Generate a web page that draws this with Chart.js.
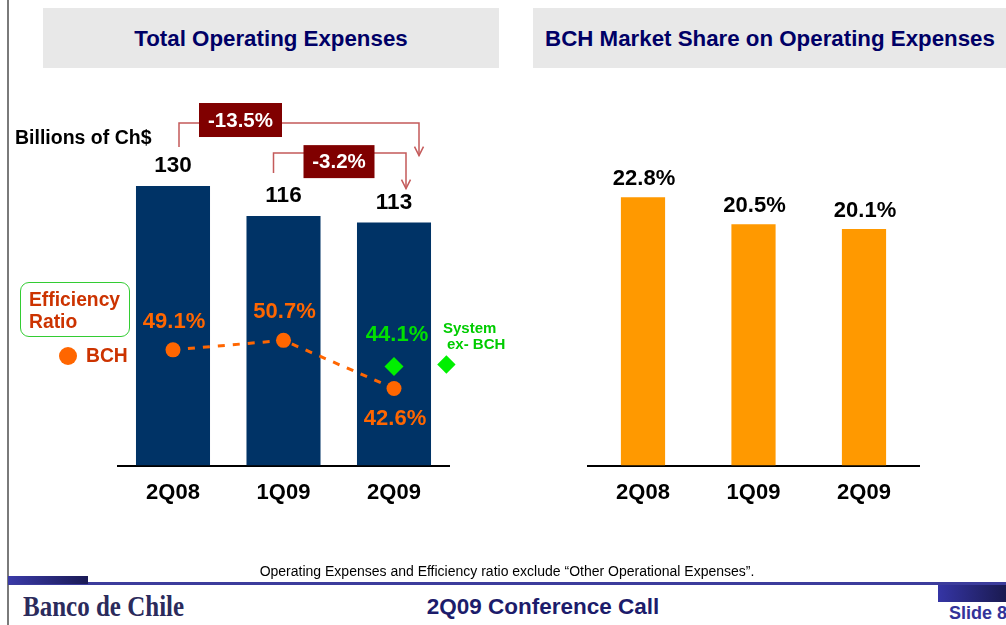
<!DOCTYPE html>
<html><head><meta charset="utf-8">
<script src="https://cdn.jsdelivr.net/npm/chart.js@4.4.0/dist/chart.umd.min.js"></script>
<style>
html,body{margin:0;padding:0;background:#fff;}
body{width:1006px;height:625px;position:relative;overflow:hidden;font-family:"Liberation Sans",Arial,sans-serif;}
.abs{position:absolute;white-space:nowrap;}
canvas{position:absolute;top:0;}
.hdr{position:absolute;top:8px;height:60px;background:#e8e8e8;color:#000066;font-weight:bold;font-size:22.3px;line-height:62px;text-align:center;}
</style></head><body>
<canvas id="c1" width="520" height="530" style="left:0;width:520px;height:530px"></canvas>
<canvas id="c2" width="486" height="530" style="left:520px;width:486px;height:530px"></canvas>

<div class="abs" style="left:7px;top:0;width:1.5px;height:625px;background:#7a7a7a"></div>
<div class="hdr" style="left:43px;width:456px">Total Operating Expenses</div>
<div class="hdr" style="left:533px;width:474px">BCH Market Share on Operating Expenses</div>

<div class="abs" style="left:15px;top:126px;font-weight:bold;font-size:19.5px;line-height:22px;color:#000">Billions of Ch$</div>

<div class="abs" style="left:20px;top:282px;width:108px;height:53px;border:1.5px solid #33cc33;border-radius:9px;"></div>
<div class="abs" style="left:29px;top:289px;font-weight:bold;font-size:19.3px;line-height:22px;color:#cc3300">Efficiency<br>Ratio</div>
<div class="abs" style="left:59px;top:347px;width:18px;height:18px;border-radius:50%;background:#ff6600"></div>
<div class="abs" style="left:86px;top:345px;font-weight:bold;font-size:19.3px;line-height:22px;color:#cc3300">BCH</div>

<div class="abs" style="left:443px;top:320px;font-weight:bold;font-size:15px;line-height:16px;color:#00cc00">System<br><span style="padding-left:4px">ex- BCH</span></div>
<div class="abs" style="left:439.6px;top:357.6px;width:12.8px;height:12.8px;background:#00f000;transform:rotate(45deg)"></div>

<div class="abs" style="left:0;width:1014px;top:562px;text-align:center;font-family:'Liberation Sans Narrow','Arial Narrow',sans-serif;font-size:14px;line-height:18px;color:#000">Operating Expenses and Efficiency ratio exclude “Other Operational Expenses”.</div>
<div class="abs" style="left:8px;top:582px;width:998px;height:3px;background:#3c3c9c"></div>
<div class="abs" style="left:8px;top:576px;width:80px;height:8px;background:linear-gradient(to right,#3a3aa8,#1a1a55)"></div>
<div class="abs" style="left:938px;top:585px;width:68px;height:17px;background:linear-gradient(to right,#3535a5,#1a1a50)"></div>
<div class="abs" style="left:23px;top:592px;font-family:'Liberation Serif','DejaVu Serif',serif;font-weight:bold;font-size:25px;line-height:30px;color:#2b2b5c;transform:scaleY(1.15);transform-origin:left center">Banco de Chile</div>
<div class="abs" style="left:343px;width:400px;top:594px;text-align:center;font-weight:bold;font-size:22.5px;line-height:26px;color:#1c1c6b">2Q09 Conference Call</div>
<div class="abs" style="left:949px;top:603px;font-weight:bold;font-size:18px;line-height:20px;color:#333399">Slide 8</div>

<script>
// ---- data ----
const categories = ['2Q08', '1Q09', '2Q09'];
const opexValues = [130, 116, 113];
const bchEfficiency = [49.1, 50.7, 42.6];
const systemEfficiency = [null, null, 44.1];
const marketShare = [22.8, 20.5, 20.1];
const changeLabels = ['-13.5%', '-3.2%'];

Chart.defaults.font.family = '"Liberation Sans", Arial, sans-serif';
Chart.defaults.devicePixelRatio = 1;

const FONT = '"Liberation Sans", Arial, sans-serif';

// value label plugin
const valueLabels = {
  id: 'valueLabels',
  afterDatasetsDraw(chart) {
    const ctx = chart.ctx;
    chart.data.datasets.forEach((ds, di) => {
      if (!ds.lbl) return;
      const meta = chart.getDatasetMeta(di);
      meta.data.forEach((el, i) => {
        const v = ds.data[i];
        if (v === null || v === undefined) return;
        const dy = Array.isArray(ds.lbl.dy) ? ds.lbl.dy[i] : ds.lbl.dy;
        const dx = ds.lbl.dx || 0;
        ctx.save();
        ctx.font = ds.lbl.font;
        ctx.fillStyle = ds.lbl.color;
        ctx.textAlign = 'center';
        ctx.textBaseline = 'middle';
        ctx.fillText(ds.lbl.fmt(v), el.x + dx, el.y + dy);
        ctx.restore();
      });
    });
  }
};

// change-arrow plugin for left chart
const changeArrows = {
  id: 'changeArrows',
  afterDatasetsDraw(chart) {
    const ctx = chart.ctx;
    const bars = chart.getDatasetMeta(0).data;
    const specs = [
      {x0: bars[0].x + 6, y0: bars[0].y - 39, yL: bars[0].y - 63, x1: bars[2].x + 25, y1: bars[2].y - 67,
       bx: bars[0].x + 67.5, by: bars[0].y - 66, bw: 83, bh: 34, text: changeLabels[0]},
      {x0: bars[1].x - 10, y0: bars[1].y - 43, yL: bars[1].y - 63, x1: bars[2].x + 12, y1: bars[2].y - 34,
       bx: bars[1].x + 55.5, by: bars[1].y - 54.5, bw: 71, bh: 33, text: changeLabels[1]}
    ];
    specs.forEach(s => {
      ctx.save();
      ctx.strokeStyle = '#c45a5a';
      ctx.lineWidth = 1.5;
      ctx.beginPath();
      ctx.moveTo(s.x0, s.y0);
      ctx.lineTo(s.x0, s.yL);
      ctx.lineTo(s.x1, s.yL);
      ctx.lineTo(s.x1, s.y1);
      ctx.stroke();
      ctx.beginPath();
      ctx.moveTo(s.x1 - 4.5, s.y1 - 9);
      ctx.lineTo(s.x1, s.y1);
      ctx.lineTo(s.x1 + 4.5, s.y1 - 9);
      ctx.stroke();
      ctx.fillStyle = '#800000';
      ctx.fillRect(s.bx - s.bw / 2, s.by - s.bh / 2, s.bw, s.bh);
      ctx.fillStyle = '#ffffff';
      ctx.font = 'bold 20.5px ' + FONT;
      ctx.textAlign = 'center';
      ctx.textBaseline = 'middle';
      ctx.fillText(s.text, s.bx, s.by + 1);
      ctx.restore();
    });
  }
};

const xAxis = {
  type: 'category',
  offset: true,
  grid: {display: false, drawTicks: false},
  border: {display: true, color: '#000', width: 2},
  ticks: {color: '#000', font: {size: 22, weight: 'bold'}, padding: 14}
};

new Chart(document.getElementById('c1'), {
  type: 'bar',
  data: {
    labels: categories,
    datasets: [
      {type: 'bar', data: opexValues, backgroundColor: '#003366', yAxisID: 'y', order: 3,
       barPercentage: 0.67, categoryPercentage: 1,
       lbl: {fmt: v => String(v), font: 'bold 22.5px ' + FONT, color: '#000', dy: -20}},
      {type: 'line', data: bchEfficiency, yAxisID: 'y2', order: 1,
       borderColor: '#ff6600', borderWidth: 3, borderDash: [7, 8], fill: false, tension: 0,
       pointRadius: 7.5, pointBackgroundColor: '#ff6600', pointBorderWidth: 0,
       lbl: {fmt: v => v.toFixed(1) + '%', font: 'bold 22px ' + FONT, color: '#ff6600', dy: [-28, -28, 30], dx: 1}},
      {type: 'line', data: systemEfficiency, yAxisID: 'y3', order: 0, showLine: false,
       pointStyle: 'rectRot', pointRadius: 9.5, pointBackgroundColor: '#00f000', pointBorderWidth: 0,
       lbl: {fmt: v => v.toFixed(1) + '%', font: 'bold 22px ' + FONT, color: '#00e000', dy: -32, dx: 3}}
    ]
  },
  options: {
    responsive: false, animation: false,
    layout: {padding: {left: 117.75, right: 70.75, top: 143, bottom: 10}},
    plugins: {legend: {display: false}, tooltip: {enabled: false}},
    scales: {
      x: xAxis,
      y: {display: false, min: 0, max: 150},
      y2: {display: false, min: 29.62, max: 83.92},
      y3: {display: false, min: 27.41, max: 81.71}
    }
  },
  plugins: [valueLabels, changeArrows]
});

new Chart(document.getElementById('c2'), {
  type: 'bar',
  data: {
    labels: categories,
    datasets: [
      {data: marketShare, backgroundColor: '#ff9900', barPercentage: 0.4, categoryPercentage: 1,
       lbl: {fmt: v => v.toFixed(1) + '%', font: 'bold 22px ' + FONT, color: '#000', dy: -18, dx: 1}}
    ]
  },
  options: {
    responsive: false, animation: false,
    layout: {padding: {left: 67.75, right: 86.75, top: 143, bottom: 10}},
    plugins: {legend: {display: false}, tooltip: {enabled: false}},
    scales: {
      x: xAxis,
      y: {display: false, min: 0, max: 27.4}
    }
  },
  plugins: [valueLabels]
});
</script>
</body></html>
